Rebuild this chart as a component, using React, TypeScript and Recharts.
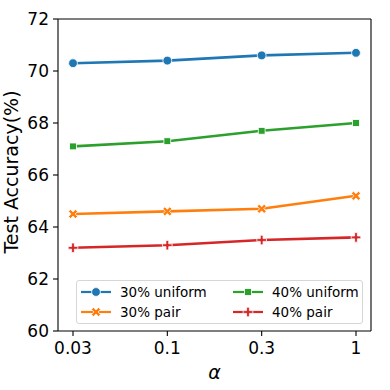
import { Legend, Line, LineChart, XAxis, YAxis } from 'recharts'

const alphas = ['0.03', '0.1', '0.3', '1']
const uniform30 = [70.3, 70.4, 70.6, 70.7]
const pair30 = [64.5, 64.6, 64.7, 65.2]
const uniform40 = [67.1, 67.3, 67.7, 68.0]
const pair40 = [63.2, 63.3, 63.5, 63.6]
const yTicks = [60, 62, 64, 66, 68, 70, 72]

const FONT = "'DejaVu Sans', sans-serif"

type Kind = 'circle' | 'x' | 'square' | 'plus'

const series: { key: string; name: string; color: string; marker: Kind; values: number[] }[] = [
  { key: 'u30', name: '30% uniform', color: '#1f77b4', marker: 'circle', values: uniform30 },
  { key: 'p30', name: '30% pair', color: '#ff7f0e', marker: 'x', values: pair30 },
  { key: 'u40', name: '40% uniform', color: '#2ca02c', marker: 'square', values: uniform40 },
  { key: 'p40', name: '40% pair', color: '#d62728', marker: 'plus', values: pair40 },
]

const data = alphas.map((a, i) => {
  const row: Record<string, string | number> = { alpha: a }
  series.forEach((s) => (row[s.key] = s.values[i]))
  return row
})

// filled plus outline, rotated for the X marker
function crossPoints(cx: number, cy: number, a: number, t: number, rot: number) {
  const pts = [
    [-t, -a], [t, -a], [t, -t], [a, -t], [a, t], [t, t],
    [t, a], [-t, a], [-t, t], [-a, t], [-a, -t], [-t, -t],
  ]
  const c = Math.cos(rot)
  const s = Math.sin(rot)
  return pts.map(([x, y]) => `${cx + x * c - y * s},${cy + x * s + y * c}`).join(' ')
}

function Marker({ kind, cx, cy, color }: { kind: Kind; cx: number; cy: number; color: string }) {
  const edge = { stroke: '#fff', strokeWidth: 0.8 }
  if (kind === 'circle') return <circle cx={cx} cy={cy} r={4.4} fill={color} {...edge} />
  if (kind === 'square') return <rect x={cx - 3.4} y={cy - 3.4} width={6.8} height={6.8} fill={color} {...edge} />
  if (kind === 'x') return <polygon points={crossPoints(cx, cy, 5, 1.5, Math.PI / 4)} fill={color} {...edge} />
  return <polygon points={crossPoints(cx, cy, 4.8, 1.4, 0)} fill={color} {...edge} />
}

function LegendBox() {
  return (
    <div
      style={{
        position: 'relative',
        width: 287,
        height: 44,
        boxSizing: 'border-box',
        border: '1px solid #d6d6d6',
        borderRadius: 3,
        background: 'rgba(255,255,255,0.8)',
        fontFamily: FONT,
        fontSize: 13.5,
        color: '#000',
      }}
    >
      {series.map((s, i) => {
        const col = Math.floor(i / 2)
        const row = i % 2
        return (
          <div
            key={s.key}
            style={{
              position: 'absolute',
              left: 3 + col * 152,
              top: 3 + row * 19.7,
              height: 16,
              display: 'flex',
              alignItems: 'center',
              whiteSpace: 'nowrap',
            }}
          >
            <svg width={32} height={16} style={{ marginRight: 8 }}>
              <line x1={1} y1={8} x2={31} y2={8} stroke={s.color} strokeWidth={2.2} />
              <Marker kind={s.marker} cx={16} cy={8} color={s.color} />
            </svg>
            <span>{s.name}</span>
          </div>
        )
      })}
    </div>
  )
}

function YLabel({ viewBox }: any) {
  const y = viewBox.y + viewBox.height / 2 - 3
  return (
    <text
      x={11}
      y={y}
      transform={`rotate(-90 11 ${y})`}
      textAnchor="middle"
      dominantBaseline="central"
      fontFamily={FONT}
      fontSize={19}
      fill="#000"
    >
      Test Accuracy(%)
    </text>
  )
}

function XLabel({ viewBox }: any) {
  const x = viewBox.x + viewBox.width / 2
  return (
    <text
      x={x}
      y={viewBox.y + 41}
      textAnchor="middle"
      dominantBaseline="central"
      fontFamily={FONT}
      fontStyle="italic"
      fontSize={19}
      fill="#000"
    >
      α
    </text>
  )
}

const tickStyle = { fill: '#000', fontSize: 17, fontFamily: FONT }
const black = { stroke: '#000', strokeWidth: 1.1 }

export default function App() {
  return (
    <div style={{ position: 'absolute', left: 0, top: 0, width: 390, height: 390, background: '#fff' }}>
      <LineChart width={390} height={390} data={data} margin={{ top: 18, right: 18, left: 0, bottom: 0 }}>
        <XAxis
          dataKey="alpha"
          padding={{ left: 15, right: 15 }}
          height={59}
          tick={tickStyle}
          tickSize={5}
          tickMargin={6}
          tickLine={black}
          axisLine={black}
          label={<XLabel />}
        />
        {/* top and right spines */}
        <XAxis
          xAxisId="top"
          dataKey="alpha"
          orientation="top"
          height={1}
          padding={{ left: 15, right: 15 }}
          tick={false}
          tickLine={false}
          axisLine={black}
        />
        <YAxis
          type="number"
          domain={[60, 72]}
          ticks={yTicks}
          width={58}
          tick={tickStyle}
          tickSize={5}
          tickMargin={4}
          tickLine={black}
          axisLine={black}
          label={<YLabel />}
        />
        <YAxis
          yAxisId="right"
          orientation="right"
          type="number"
          domain={[60, 72]}
          width={1}
          tick={false}
          tickLine={false}
          axisLine={black}
        />
        {series.map((s) => (
          <Line
            key={s.key}
            dataKey={s.key}
            name={s.name}
            stroke={s.color}
            strokeWidth={2.6}
            isAnimationActive={false}
            dot={(p: any) => <Marker key={`${s.key}-${p.index}`} kind={s.marker} cx={p.cx} cy={p.cy} color={s.color} />}
            activeDot={false}
          />
        ))}
        <Legend
          layout="horizontal"
          verticalAlign="middle"
          align="center"
          wrapperStyle={{ left: 76, top: 280, width: 287, height: 44 }}
          content={() => <LegendBox />}
        />
      </LineChart>
    </div>
  )
}
